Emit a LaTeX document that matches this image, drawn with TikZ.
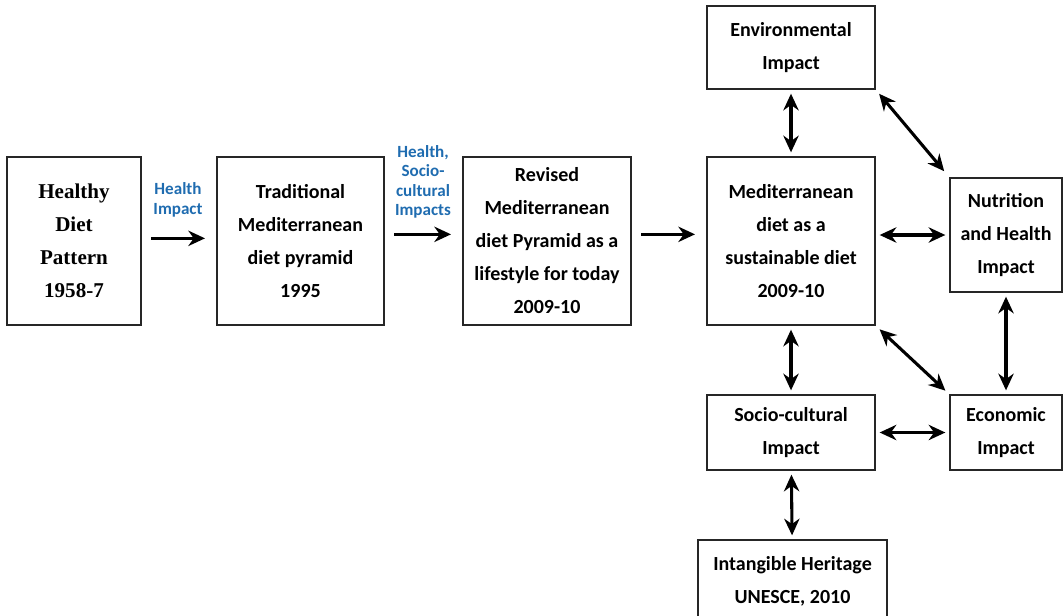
\documentclass[tikz,border=0pt]{standalone}
\usepackage{fontspec}
\setmainfont{Carlito}
\newfontfamily\serifbox{Liberation Serif}
\usetikzlibrary{arrows.meta}
\definecolor{labelblue}{RGB}{31,108,176}
\begin{document}
\begin{tikzpicture}[x=0.75pt,y=-0.75pt,
		box/.style={draw=black!85,line width=1pt,fill=white,align=center,inner sep=0pt,font=\fontsize{15}{24.75}\selectfont\bfseries},
		link/.style={line width=2.3pt,-{Stealth[length=12.5pt,width=11.5pt]},shorten <=7pt,shorten >=8.5pt},
		both/.style={line width=2.3pt,{Stealth[length=12.5pt,width=11.5pt]}-{Stealth[length=12.5pt,width=11.5pt]},shorten <=3pt,shorten >=3pt},
		impact/.style={text=labelblue,align=center,font=\fontsize{12.8}{14.5}\selectfont\bfseries}]
				\clip (0,0) rectangle (1063,615);
				\node[box,minimum width=100.5pt,minimum height=126pt,font=\serifbox\fontsize{15.8}{24.75}\selectfont\bfseries] (healthy) at (74,241) {Healthy\\Diet\\Pattern\\1958-7};
				\node[box,minimum width=125.25pt,minimum height=126pt] (trad) at (300.5,241) {Traditional\\Mediterranean\\diet pyramid\\1995};
				\node[box,minimum width=126pt,minimum height=126pt] (revised) at (547,241) {Revised\\Mediterranean\\diet Pyramid as a\\lifestyle for today\\2009-10};
				\node[box,minimum width=126pt,minimum height=126pt] (sustain) at (791,241) {Mediterranean\\diet as a\\sustainable diet\\2009-10};
				\node[box,minimum width=126pt,minimum height=62.25pt] (env) at (791,47.5) {Environmental\\Impact};
				\node[box,minimum width=84pt,minimum height=85.5pt] (nutr) at (1006,235) {Nutrition\\and Health\\Impact};
				\node[box,minimum width=126pt,minimum height=56.25pt] (socio) at (791,432.5) {Socio-cultural\\Impact};
				\node[box,minimum width=84pt,minimum height=56.25pt] (econ) at (1006,432.5) {Economic\\Impact};
				\node[box,minimum width=141.75pt,minimum height=61.5pt] (heritage) at (792.5,581) {Intangible Heritage\\UNESCE, 2010};
				\node[impact] (lblhealth) at (178,200) {Health\\Impact};
				\node[impact] (lblsocio) at (423,182) {Health,\\Socio-\\cultural\\Impacts};
				% main line of development
				\draw[link] ([yshift=2pt]healthy.east) to ([yshift=2pt]trad.west);
				\draw[link] ([yshift=5pt]trad.east) to ([yshift=5pt]revised.west);
				\draw[link] ([yshift=5pt]revised.east) to ([yshift=5pt]sustain.west);
				% impacts round the sustainable diet
				\draw[both] (env) to (sustain);
				\draw[both] (sustain) to (socio);
				\draw[both] (socio) to (heritage);
				\draw[both] (nutr) to (econ);
				\draw[both] (sustain.east |- nutr.west) to (nutr.west);
				\draw[both] (socio) to (econ);
				\draw[both,shorten <=4pt,shorten >=6pt] (env.south east) to (nutr.north west);
				\draw[both,shorten <=4pt,shorten >=4pt] (sustain.south east) to (econ.north west);
			\end{tikzpicture}
\end{document}
